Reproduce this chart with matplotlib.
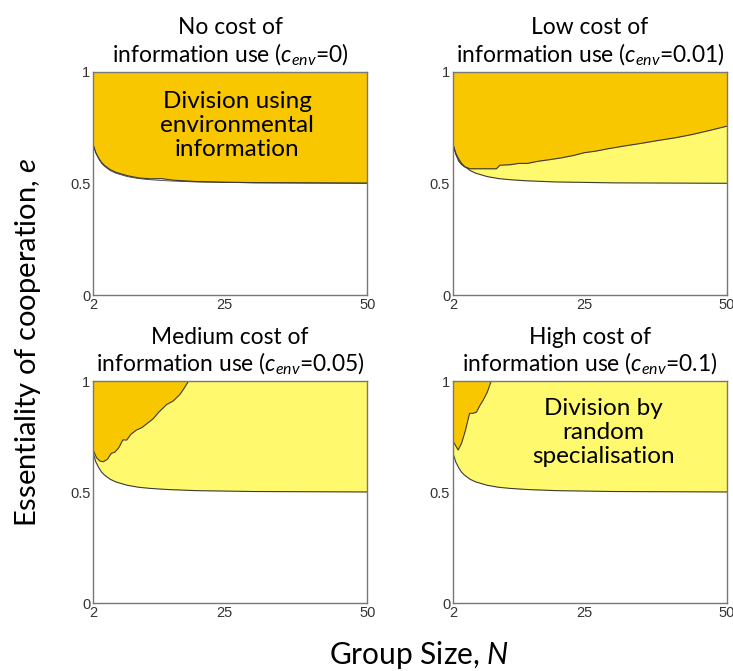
import matplotlib
matplotlib.use("Agg")
import matplotlib.pyplot as plt
import numpy as np

plt.rcParams['font.family'] = ['Lato', 'DejaVu Sans']
plt.rcParams['mathtext.fontset'] = 'custom'
plt.rcParams['mathtext.rm'] = 'Lato'
plt.rcParams['mathtext.it'] = 'Lato:italic'

ORANGE = '#F9C700'
YELLOW = '#FFF96E'
EDGE = '#3a3a3a'

# threshold for division of labour by random specialisation
n_low = [2, 2.5, 3, 3.5, 4, 5, 6, 8, 10, 12, 15, 20, 25, 30, 40, 50]
e_low = [0.675, 0.635, 0.61, 0.59, 0.577, 0.558, 0.546, 0.531, 0.522,
         0.517, 0.512, 0.507, 0.505, 0.503, 0.502, 0.501]

# boundary of division using environmental information, one per cost
n_env0 = [2, 2.5, 3, 3.5, 4, 5, 6, 8, 10, 12, 14, 16, 20, 25, 30, 40, 50]
e_env0 = [0.675, 0.637, 0.613, 0.594, 0.581, 0.562, 0.55, 0.535, 0.525,
          0.521, 0.522, 0.515, 0.509, 0.506, 0.504, 0.503, 0.502]

n_env1 = [2, 2.5, 3, 3.5, 4, 5, 6, 8, 9.6, 10.2, 12, 13.5, 15, 17, 19, 21,
          23, 25, 27, 29, 32, 35, 38, 41, 44, 47, 50]
e_env1 = [0.675, 0.63, 0.6, 0.585, 0.575, 0.566, 0.566, 0.566, 0.566, 0.582,
          0.584, 0.59, 0.59, 0.6, 0.607, 0.615, 0.625, 0.638, 0.645, 0.655,
          0.668, 0.68, 0.693, 0.705, 0.72, 0.738, 0.757]

n_env5 = [2, 2.6, 3.2, 3.8, 4.5, 5.2, 5.8, 6.5, 7.2, 7.9, 8.6, 9.6, 10.5,
          11.5, 12.5, 13.5, 14.9, 16, 17.2, 18.0, 18.7]
e_env5 = [0.69, 0.655, 0.64, 0.637, 0.648, 0.675, 0.68, 0.7, 0.735, 0.735,
          0.76, 0.78, 0.79, 0.81, 0.83, 0.86, 0.895, 0.91, 0.94, 0.97, 1.0]

n_env10 = [2, 2.9, 3.5, 4.2, 4.9, 5.5, 6.1, 6.7, 7.3, 8.0, 8.7]
e_env10 = [0.73, 0.69, 0.72, 0.78, 0.855, 0.855, 0.86, 0.89, 0.915, 0.95, 1.0]

titles = ['No cost of\ninformation use ($c_{env}$=0)',
          'Low cost of\ninformation use ($c_{env}$=0.01)',
          'Medium cost of\ninformation use ($c_{env}$=0.05)',
          'High cost of\ninformation use ($c_{env}$=0.1)']

fig = plt.figure(figsize=(7.33, 6.71), dpi=100)
rects = [[0.127, 0.560, 0.374, 0.333],
         [0.618, 0.560, 0.374, 0.333],
         [0.127, 0.101, 0.374, 0.331],
         [0.618, 0.101, 0.374, 0.331]]
axes = [fig.add_axes(r) for r in rects]

for k, ax in enumerate(axes):
    ax.set_xlim(2, 50)
    ax.set_ylim(0, 1)
    if k == 0:
        # environmental information wins everywhere above the threshold
        ax.fill_between(n_env0, e_env0, 1, color=ORANGE, lw=0)
        ax.plot(n_env0, e_env0, color=EDGE, lw=0.8)
        ax.plot(n_low, e_low, color=EDGE, lw=0.6)
    else:
        ax.fill_between(n_low, e_low, 1, color=YELLOW, lw=0)
        ax.plot(n_low, e_low, color=EDGE, lw=0.8)
    if k == 1:
        ax.fill_between(n_env1, e_env1, 1, color=ORANGE, lw=0)
        ax.plot(n_env1, e_env1, color=EDGE, lw=0.8)
    if k in (2, 3):
        nb, eb = (n_env5, e_env5) if k == 2 else (n_env10, e_env10)
        ax.fill([2] + nb, [1] + eb, color=ORANGE, lw=0)
        ax.plot(nb, eb, color=EDGE, lw=0.8)

    ax.set_title(titles[k], fontsize=16.4, pad=7, linespacing=1.15)
    ax.set_xticks([2, 25, 50])
    ax.set_yticks([0, 0.5, 1])
    ax.set_yticklabels(['0', '0.5', '1'])
    ax.tick_params(length=0, labelsize=10.5, labelcolor='#333333', pad=2,
                   labelfontfamily='Liberation Sans')
    for s in ax.spines.values():
        s.set_color('#777777')
        s.set_linewidth(1.0)

axes[0].text(27.2, 0.76, 'Division using\nenvironmental\ninformation',
             ha='center', va='center', fontsize=17.5, linespacing=1.17)
axes[3].text(28.3, 0.77, 'Division by\nrandom\nspecialisation',
             ha='center', va='center', fontsize=17.5, linespacing=1.17)

fig.text(0.038, 0.49, 'Essentiality of cooperation, $e$', rotation=90,
         ha='center', va='center', fontsize=21)
fig.text(0.571, 0.024, 'Group Size, $N$', ha='center', va='center',
         fontsize=21.5)

fig.savefig('out.png', dpi=100)
